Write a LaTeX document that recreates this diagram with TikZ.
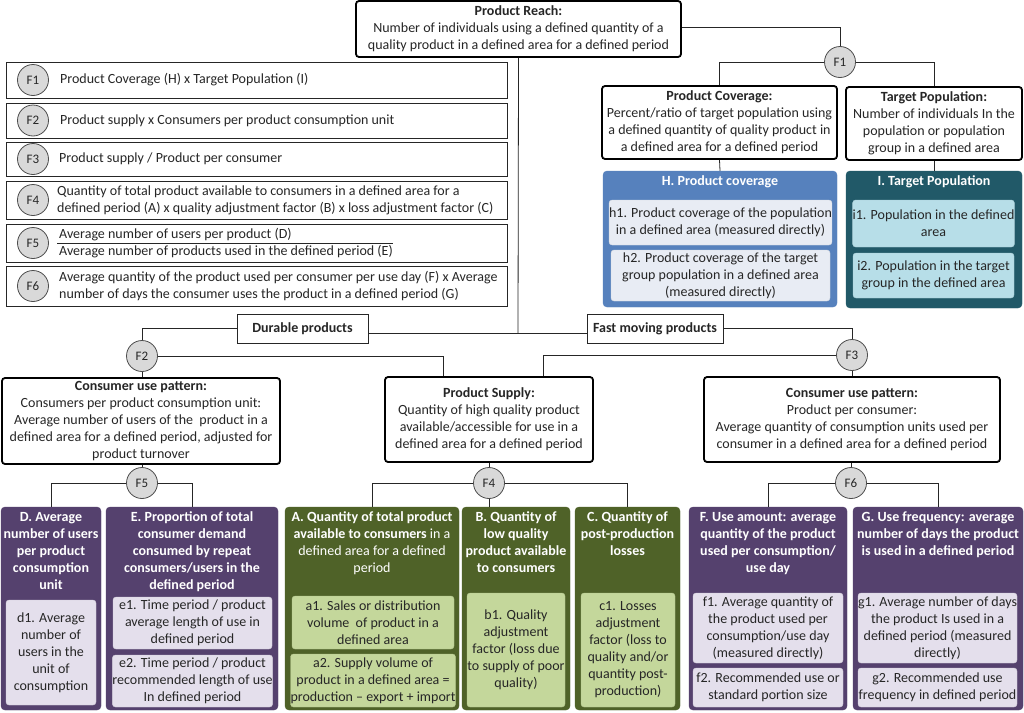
\documentclass[tikz,border=0pt]{standalone}
\usepackage{fontspec}
\setmainfont{Carlito}
\definecolor{circgray}{RGB}{217,217,217}
\definecolor{hblue}{RGB}{86,129,189}
\definecolor{hbluelite}{RGB}{232,236,244}
\definecolor{iteal}{RGB}{33,89,104}
\definecolor{itealite}{RGB}{183,222,232}
\definecolor{purp}{RGB}{85,65,110}
\definecolor{purplite}{RGB}{228,223,236}
\definecolor{grn}{RGB}{79,98,40}
\definecolor{grnlite}{RGB}{196,215,155}

\begin{document}
\begin{tikzpicture}[x=1pt,y=-1pt,
    every node/.style={font=\fontsize{14}{17}\selectfont,inner sep=0pt,align=center,text=black!85},
    sz/.style 2 args={minimum width=#1pt,minimum height=#2pt},
    mainbox/.style={draw=black,line width=1.8pt,rounded corners=3pt,fill=white},
    formbox/.style={draw=black!85,line width=0.8pt},
    fcirc/.style={circle,draw=black!70,fill=circgray,line width=0.8pt,minimum size=31pt,font=\fontsize{13}{15}\selectfont},
    link/.style={draw=black!85,line width=0.8pt},
    grp/.style={fill=#1,draw=#1,rounded corners=4pt},
    sub/.style={fill=#1,draw=#1!92!black,rounded corners=3pt,line width=0.4pt},
    ttl/.style={anchor=north,text=white,font=\fontsize{14}{17}\selectfont\bfseries},
    lbl/.style={draw=black!85,line width=0.8pt,fill=white,font=\fontsize{14}{17}\selectfont\bfseries}
    ]
    \useasboundingbox[fill=white] (0,0) rectangle (1024,712);

    \node[formbox,sz={501}{36}] (row1) at (256.5,80) {};
    \node[formbox,sz={501}{35}] (row2) at (256.5,120.5) {};
    \node[formbox,sz={501}{34}] (row3) at (256.5,159) {};
    \node[formbox,sz={501}{38}] (row4) at (256.5,200) {};
    \node[formbox,sz={501}{38}] (row5) at (256.5,243) {};
    \node[formbox,sz={501}{40}] (row6) at (256.5,286) {};
    \node[fcirc] (tag1) at (33,80) {F1};
    \node[fcirc] (tag2) at (33,120.5) {F2};
    \node[fcirc] (tag3) at (33,159) {F3};
    \node[fcirc] (tag4) at (33,200) {F4};
    \node[fcirc] (tag5) at (33,243) {F5};
    \node[fcirc] (tag6) at (33,286) {F6};
    \node[anchor=west] (txt1) at (60,80) {Product Coverage (H) x Target Population (I)};
    \node[anchor=west] (txt2) at (60,120.5) {Product supply x Consumers per product consumption unit};
    \node[anchor=west] (txt3) at (59,159) {Product supply / Product per consumer};
    \node[anchor=west,align=left] (txt4) at (57,200) {Quantity of total product available to consumers in a defined area for a\\defined period (A) x quality adjustment factor (B) x loss adjustment factor (C)};
    \node[anchor=south west] (txt5a) at (59,241.5) {Average number of users per product (D)};
    \node[anchor=north west] (txt5b) at (59,245.5) {Average number of products used in the defined period (E)};
    \draw[link] ([xshift=-2pt,yshift=2pt]txt5b.north west) -- ([yshift=2pt]txt5b.north east);
    \node[anchor=west,align=left] (txt6) at (59,286) {Average quantity of the product used per consumer per use day (F) x Average\\number of days the consumer uses the product in a defined period (G)};

    \node[mainbox,sz={325}{56}] (reach) at (518.5,29) {\textbf{Product Reach:}\\Number of individuals using a defined quantity of a\\quality product in a defined area for a defined period};
    \node[fcirc] (F1) at (840,62) {F1};
    \node[mainbox,sz={235}{73}] (cover) at (719.5,122.5) {\textbf{Product Coverage:}\\Percent/ratio of target population using\\a defined quantity of quality product in\\a defined area for a defined period};
    \node[mainbox,sz={176}{73}] (target) at (934,123.5) {\textbf{Target Population:}\\Number of individuals In the\\population or population\\group in a defined area};

    \node[grp=hblue,sz={234}{136}] (H) at (720,239) {};
    \node[ttl] (Ht) at ([yshift=-5pt]H.north) {H. Product coverage};
    \node[sub=hbluelite,sz={219}{45}] (h1) at (720.5,222.5) {h1. Product coverage of the population\\in a defined area (measured directly)};
    \node[sub=hbluelite,sz={219}{51}] (h2) at (720.5,275.5) {h2. Product coverage of the target\\group population in a defined area\\(measured directly)};
    \node[grp=iteal,sz={176}{137}] (I) at (934,239.5) {};
    \node[ttl] (It) at ([yshift=-5pt]I.north) {I. Target Population};
    \node[sub=itealite,sz={161}{47}] (i1) at (933.5,223.5) {i1. Population in the defined\\area};
    \node[sub=itealite,sz={161}{45}] (i2) at (933.5,275.5) {i2. Population in the target\\group in the defined area};

    \node[lbl,sz={131}{29}] (durable) at (302.5,328.5) {Durable products};
    \node[lbl,sz={136}{29}] (fast) at (655,328.5) {Fast moving products};
    \node[fcirc] (F2) at (142,356) {F2};
    \node[fcirc] (F3) at (852,355) {F3};
    \node[mainbox,sz={278}{86}] (cup1) at (141,421) {\textbf{Consumer use pattern:}\\Consumers per product consumption unit:\\Average number of users of the\ \ product in a\\defined area for a defined period, adjusted for\\product turnover};
    \node[mainbox,sz={208}{85}] (supply) at (489,419.5) {\textbf{Product Supply:}\\Quantity of high quality product\\available/accessible for use in a\\defined area for a defined period};
    \node[mainbox,sz={296}{85}] (cup2) at (852,419.5) {\textbf{Consumer use pattern:}\\Product per consumer:\\Average quantity of consumption units used per\\consumer in a defined area for a defined period};
    \node[fcirc] (F5) at (142,483) {F5};
    \node[fcirc] (F4) at (489,483) {F4};
    \node[fcirc] (F6) at (851,483) {F6};

    \node[grp=purp,sz={100}{203}] (D) at (51,608.5) {};
    \node[ttl] (Dt) at ([yshift=-5pt]D.north) {D. Average\\number of users\\per product\\consumption\\unit};
    \node[sub=purplite,sz={90}{105}] (d1) at (51,652.5) {d1. Average\\number of\\users in the\\unit of\\consumption};
    \node[grp=purp,sz={172}{203}] (E) at (192,608.5) {};
    \node[ttl] (Et) at ([yshift=-5pt]E.north) {E. Proportion of total\\consumer demand\\consumed by repeat\\consumers/users in the\\defined period};
    \node[sub=purplite,sz={159}{52}] (e1) at (192.5,623) {e1. Time period / product\\average length of use in\\defined period};
    \node[sub=purplite,sz={159}{52}] (e2) at (192.5,681) {e2. Time period / product\\recommended length of use\\In defined period};
    \node[grp=grn,sz={174}{203}] (A) at (372,608.5) {};
    \node[ttl,font=\fontsize{14}{17}\selectfont] (At) at ([yshift=-5pt]A.north) {\textbf{A. Quantity of total product}\\\textbf{available to consumers} in a\\defined area for a defined\\period};
    \node[sub=grnlite,sz={162}{53}] (a1) at (373,622.5) {a1. Sales or distribution\\volume\ \ of product in a\\defined area};
    \node[sub=grnlite,sz={162}{53}] (a2) at (373,680.5) {a2. Supply volume of\\product in a defined area =\\production -- export + import};
    \node[grp=grn,sz={108}{203}] (B) at (516,608.5) {};
    \node[ttl] (Bt) at ([yshift=-5pt]B.north) {B. Quantity of\\low quality\\product available\\to consumers};
    \node[sub=grnlite,sz={98}{114}] (b1) at (516,650) {b1. Quality\\adjustment\\factor (loss due\\to supply of poor\\quality)};
    \node[grp=grn,sz={105}{203}] (C) at (627.5,608.5) {};
    \node[ttl] (Ct) at ([yshift=-5pt]C.north) {C. Quantity of\\post-production\\losses};
    \node[sub=grnlite,sz={94}{114}] (c1) at (628,650) {c1. Losses\\adjustment\\factor (loss to\\quality and/or\\quantity post-\\production)};
    \node[grp=purp,sz={158}{203}] (F) at (768,608.5) {};
    \node[ttl] (Ft) at ([yshift=-5pt]F.north) {F. Use amount: average\\quantity of the product\\used per consumption/\\use day};
    \node[sub=purplite,sz={150}{70}] (f1) at (768,628) {f1. Average quantity of\\the product used per\\consumption/use day\\(measured directly)};
    \node[sub=purplite,sz={150}{39}] (f2) at (768,687.5) {f2. Recommended use or\\standard portion size};
    \node[grp=purp,sz={170}{203}] (G) at (938,608.5) {};
    \node[ttl] (Gt) at ([yshift=-5pt]G.north) {G. Use frequency: average\\number of days the product\\is used in a defined period};
    \node[sub=purplite,sz={159}{70}] (g1) at (937.5,628) {g1. Average number of days\\the product Is used in a\\defined period (measured\\directly)};
    \node[sub=purplite,sz={159}{39}] (g2) at (937.5,687.5) {g2. Recommended use\\frequency in defined period};

    \coordinate (split) at (518,333);
    \draw[link] ([yshift=2pt]reach.east) -| (F1.north);
    \draw[link] (F1.west) -| (cover.north);
    \draw[link] (F1.east) -| (target.north);
    \draw[link] (cover.south) -- (H.north);
    \draw[link] (target.south) -- (I.north);
    \draw[link] (reach.south) -- (split);
    \draw[link] ([yshift=-4.5pt]durable.east) -- ([yshift=-4.5pt]fast.west);
    \draw[link] (durable.west) -| (F2.north);
    \draw[link] (fast.east) -| (F3.north);
    \draw[link] (F2.east) -| ([xshift=-46pt]supply.north);
    \draw[link] (F3.west) -| ([xshift=54pt]supply.north);
    \draw[link] (F2.south) -- (F2 |- cup1.north);
    \draw[link] (F3.south) -- (cup2.north);
    \draw[link] (cup1.south -| F5) -- (F5.north);
    \draw[link] (supply.south) -- (F4.north);
    \draw[link] (cup2.south -| F6) -- (F6.north);
    \draw[link] (F5.west) -| (D.north);
    \draw[link] (F5.east) -| (E.north);
    \draw[link] (F4.west) -| (A.north);
    \draw[link] (F4.south) -- (F4 |- B.north);
    \draw[link] (F4.east) -| (C.north);
    \draw[link] (F6.west) -| (F.north);
    \draw[link] (F6.east) -| (G.north);
\end{tikzpicture}
\end{document}
